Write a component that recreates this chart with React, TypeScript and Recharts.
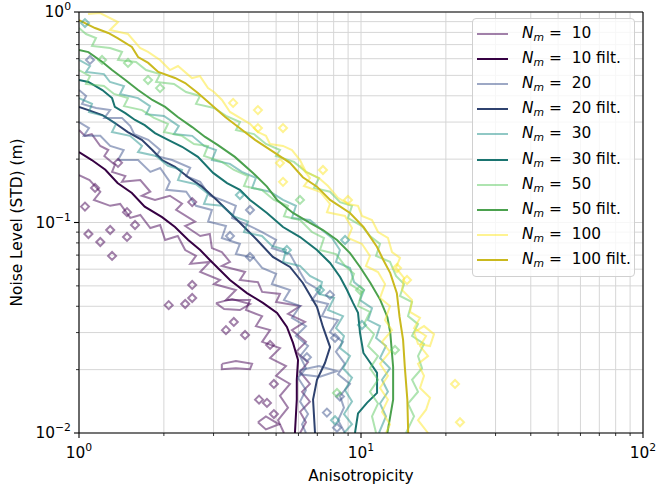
import {
  ComposedChart, Line, Scatter, XAxis, YAxis, CartesianGrid,
  Legend, ReferenceLine,
} from "recharts";

type P = [number, number];

// axis ticks (major + minor) and the exponent shown on the majors
const X_TICKS = [1, 2, 3, 4, 5, 6, 7, 8, 9, 10, 20, 30, 40, 50, 60, 70, 80, 90, 100];
const Y_TICKS = [
  0.01, 0.02, 0.03, 0.04, 0.05, 0.06, 0.07, 0.08, 0.09,
  0.1, 0.2, 0.3, 0.4, 0.5, 0.6, 0.7, 0.8, 0.9, 1,
];
const X_EXP: Record<number, string> = { 1: "0", 10: "1", 100: "2" };
const Y_EXP: Record<number, string> = { 0.01: "\u22122", 0.1: "\u22121", 1: "0" };

const FS = 15.4; // matplotlib 10pt at this dpi
const FS_SUP = 10.8;

// ---- filtered curves ----
const F10: P[] = [
  [1, 0.216], [1.11, 0.198], [1.24, 0.178], [1.37, 0.154], [1.54, 0.138], [1.71, 0.119],
  [1.97, 0.106], [2.19, 0.0952], [2.44, 0.0826], [2.69, 0.074], [2.91, 0.0664], [3.43, 0.0533],
  [3.94, 0.0462], [4.49, 0.0415], [5.04, 0.0372], [5.46, 0.0319], [5.74, 0.0268], [5.98, 0.0222],
  [5.92, 0.0179], [5.92, 0.0144], [5.83, 0.01],
];
const F20: P[] = [
  [1, 0.354], [1.08, 0.342], [1.21, 0.324], [1.34, 0.297], [1.49, 0.269], [1.67, 0.247],
  [1.82, 0.221], [1.97, 0.198], [2.19, 0.184], [2.44, 0.164], [2.73, 0.148], [3.08, 0.128],
  [3.63, 0.103], [4.28, 0.0826], [4.87, 0.0686], [5.6, 0.0615], [6.22, 0.0516], [6.98, 0.0397],
  [7.33, 0.0319], [7.77, 0.0256], [7.45, 0.0215], [6.98, 0.0179], [6.76, 0.0144], [6.87, 0.01],
];
const F30: P[] = [
  [1, 0.475], [1.08, 0.465], [1.21, 0.426], [1.31, 0.39], [1.34, 0.354], [1.46, 0.331],
  [1.58, 0.307], [1.71, 0.29], [1.86, 0.266], [2.07, 0.247], [2.32, 0.229], [2.64, 0.205],
  [2.99, 0.172], [3.35, 0.154], [3.72, 0.143], [4.04, 0.128], [4.64, 0.111], [5.29, 0.0952],
  [6.08, 0.0853], [6.98, 0.074], [7.77, 0.0642], [8.43, 0.0551], [8.92, 0.0478], [9.37, 0.0415],
  [9.76, 0.0372], [9.92, 0.0299], [10.2, 0.024], [10.8, 0.0215], [11.4, 0.0193], [11.4, 0.0155],
  [10.5, 0.0139], [9.76, 0.0124], [9.52, 0.01],
];
const F50: P[] = [
  [1, 0.66], [1.08, 0.645], [1.21, 0.579], [1.31, 0.53], [1.46, 0.475], [1.62, 0.426],
  [1.82, 0.382], [2.02, 0.354], [2.24, 0.317], [2.52, 0.284], [2.8, 0.255], [3.11, 0.233],
  [3.57, 0.205], [4.14, 0.172], [4.64, 0.148], [5.04, 0.128], [5.74, 0.111], [6.59, 0.0995],
  [7.33, 0.0921], [8.22, 0.0826], [9.14, 0.0716], [9.92, 0.0615], [10.8, 0.0516], [11.7, 0.0429],
  [12.4, 0.0356], [12.7, 0.0299], [13.0, 0.0206], [13.0, 0.0144], [12.4, 0.01],
];
const F100: P[] = [
  [1, 0.916], [1.14, 0.839], [1.27, 0.795], [1.37, 0.752], [1.54, 0.682], [1.62, 0.611],
  [1.76, 0.573], [1.91, 0.519], [2.19, 0.486], [2.38, 0.46], [2.64, 0.412], [2.96, 0.361],
  [3.3, 0.317], [3.79, 0.275], [4.21, 0.247], [4.95, 0.214], [5.6, 0.192], [6.22, 0.164],
  [6.98, 0.148], [7.77, 0.128], [9.14, 0.111], [10.2, 0.0952], [11.4, 0.0765], [12.0, 0.0664],
  [12.7, 0.0575], [13.4, 0.0462], [13.7, 0.0356], [14.1, 0.0277], [14.3, 0.0206], [14.6, 0.0144],
  [14.7, 0.01],
];

// ---- raw (unfiltered) contour outlines ----
const C10_UP: P[] = [
  [1, 0.275], [1.05, 0.258], [1.11, 0.263], [1.19, 0.231], [1.27, 0.221], [1.23, 0.207],
  [1.34, 0.188], [1.31, 0.174], [1.46, 0.166], [1.42, 0.156], [1.65, 0.159], [1.79, 0.14],
  [1.67, 0.134], [1.86, 0.128], [2.1, 0.134], [2.32, 0.123], [2.21, 0.115], [2.58, 0.101],
  [2.38, 0.0962], [2.69, 0.0863], [2.91, 0.0882], [2.96, 0.0756], [3.21, 0.0724], [3.43, 0.065],
  [3.21, 0.0622], [3.88, 0.0582], [3.72, 0.0533], [4.31, 0.0521], [4.46, 0.0468], [5.16, 0.0458],
  [5.0, 0.0419], [6.08, 0.0401], [5.51, 0.0368], [6.33, 0.0337], [5.69, 0.0308], [6.38, 0.0271],
  [5.88, 0.0243], [6.49, 0.0217], [6.08, 0.0195], [6.59, 0.0171], [6.18, 0.0157], [6.59, 0.0141],
  [6.08, 0.0126], [6.38, 0.01125], [6.08, 0.01],
];
const C10_LO: P[] = [
  [1, 0.168], [1.09, 0.159], [1.19, 0.14], [1.13, 0.128], [1.29, 0.12], [1.4, 0.1225],
  [1.52, 0.1051], [1.65, 0.1086], [1.79, 0.0941], [1.94, 0.0973], [2.02, 0.0826], [2.24, 0.0863],
  [2.38, 0.074], [2.6, 0.0694], [2.48, 0.0636], [2.91, 0.065], [2.69, 0.0582], [3.16, 0.0533],
  [3.01, 0.051], [3.6, 0.0478], [3.32, 0.0428], [4.04, 0.0428], [3.91, 0.0384], [4.46, 0.0359],
  [4.24, 0.0322], [4.76, 0.0308], [4.46, 0.0271], [5.16, 0.0253], [4.76, 0.0227], [5.42, 0.0208],
  [5.0, 0.0187], [5.6, 0.0171], [5.16, 0.015], [5.51, 0.0132], [5.08, 0.0115], [5.33, 0.01],
];
const C10_A: P[] = [[3.21, 0.0213], [3.6, 0.022], [4.11, 0.0213], [4.04, 0.0201], [3.6, 0.0203], [3.21, 0.0201], [3.21, 0.0213]];
const C10_B: P[] = [[4.31, 0.01125], [4.6, 0.012], [5.12, 0.011], [4.6, 0.0104], [4.31, 0.01125]];
const C10_C: P[] = [[3.06, 0.0414], [3.49, 0.0433], [4.04, 0.041], [3.72, 0.0384], [3.27, 0.0388], [3.06, 0.0414]];
const D10: P[] = [
  [1.375, 0.192], [1.14, 0.146], [1.05, 0.119], [1.48, 0.112], [1.58, 0.0973], [1.29, 0.0921],
  [1.08, 0.0882], [1.48, 0.0854], [1.31, 0.0694], [2.52, 0.125], [2.08, 0.0405], [2.38, 0.041],
  [2.52, 0.0438], [2.52, 0.0505], [3.32, 0.0308], [3.54, 0.0337], [4.91, 0.0171], [4.35, 0.0144],
  [4.91, 0.0123], [4.64, 0.0139], [1.19, 0.0808], [3.88, 0.0292], [4.76, 0.0262],
];

const C20_UP: P[] = [
  [1, 0.426], [1.06, 0.399], [1.025, 0.366], [1.15, 0.35], [1.29, 0.342], [1.23, 0.314],
  [1.42, 0.314], [1.52, 0.287], [1.57, 0.263], [1.76, 0.247], [1.94, 0.221], [1.88, 0.207],
  [2.14, 0.198], [2.48, 0.182], [2.4, 0.166], [2.69, 0.156], [2.91, 0.134], [3.21, 0.128],
  [3.6, 0.12], [3.49, 0.105], [4.04, 0.0962], [4.46, 0.0901], [5.0, 0.0826], [4.83, 0.0756],
  [5.6, 0.0708], [6.08, 0.0582], [6.38, 0.0521], [7.1, 0.0478], [6.7, 0.0428], [7.64, 0.041],
  [7.27, 0.0359], [8.29, 0.0344], [7.76, 0.0301], [8.63, 0.0271], [8.15, 0.0243], [8.77, 0.0213],
  [8.29, 0.019], [9.14, 0.0171], [8.42, 0.015], [8.7, 0.0132], [8.29, 0.0115], [8.77, 0.01],
];
const C20_LO: P[] = [
  [1, 0.3], [1.085, 0.281], [1.04, 0.258], [1.19, 0.258], [1.29, 0.231], [1.44, 0.221],
  [1.375, 0.198], [1.62, 0.198], [1.79, 0.174], [1.94, 0.1815], [2.1, 0.156], [2.04, 0.143],
  [2.4, 0.14], [2.6, 0.12], [2.96, 0.1147], [2.87, 0.101], [3.32, 0.0962], [3.21, 0.0844],
  [3.72, 0.0791], [3.6, 0.0708], [4.17, 0.0679], [4.46, 0.0608], [5.0, 0.057], [4.83, 0.051],
  [5.6, 0.0478], [5.33, 0.0428], [6.08, 0.0401], [5.69, 0.0352], [6.38, 0.0322], [5.88, 0.0289],
  [6.49, 0.0259], [6.08, 0.0232], [6.38, 0.0203], [5.98, 0.0183], [6.38, 0.016], [6.08, 0.0141],
  [6.49, 0.0123], [6.18, 0.011], [6.38, 0.01],
];
const C20_A: P[] = [[6.08, 0.0199], [7.1, 0.0208], [8.22, 0.0197], [7.15, 0.0185], [6.08, 0.019], [6.08, 0.0199]];
const D20: P[] = [
  [4.04, 0.0686], [7.57, 0.0125], [8.42, 0.0149], [8.22, 0.0106], [4.04, 0.1147], [3.43, 0.0863],
  [7.76, 0.0453], [6.43, 0.0229], [8.09, 0.0283], [1.094, 0.592],
];

const C30_UP: P[] = [
  [1, 0.592], [1.094, 0.554], [1.059, 0.519], [1.226, 0.507], [1.288, 0.465], [1.444, 0.445],
  [1.398, 0.408], [1.619, 0.39], [1.786, 0.357], [1.729, 0.327], [2.0, 0.321], [2.26, 0.287],
  [2.17, 0.263], [2.52, 0.258], [2.78, 0.231], [3.06, 0.221], [2.96, 0.198], [3.43, 0.19],
  [3.78, 0.174], [4.24, 0.163], [4.11, 0.146], [4.76, 0.14], [5.29, 0.128], [5.88, 0.12],
  [5.69, 0.105], [6.59, 0.1028], [7.27, 0.0921], [7.89, 0.0844], [8.42, 0.074], [8.15, 0.065],
  [9.14, 0.0608], [9.45, 0.0521], [10.25, 0.0478], [9.92, 0.0428], [10.94, 0.0392], [10.59, 0.0344],
  [11.68, 0.0322], [11.31, 0.0283], [12.26, 0.0259], [11.68, 0.0227], [12.67, 0.0203], [11.87, 0.0179],
  [12.46, 0.0157], [11.68, 0.0138], [12.26, 0.012], [11.58, 0.01],
];
const C30_LO: P[] = [
  [1, 0.39], [1.112, 0.366], [1.085, 0.335], [1.226, 0.321], [1.353, 0.294], [1.309, 0.269],
  [1.517, 0.258], [1.673, 0.231], [1.619, 0.216], [1.876, 0.207], [2.068, 0.186], [2.319, 0.1776],
  [2.244, 0.159], [2.6, 0.152], [2.867, 0.137], [2.775, 0.1225], [3.214, 0.12], [3.545, 0.107],
  [3.975, 0.101], [3.847, 0.0901], [4.455, 0.0863], [4.834, 0.0774], [5.42, 0.074], [5.289, 0.065],
  [6.076, 0.0622], [6.593, 0.0557], [7.272, 0.0521], [7.095, 0.0458], [8.021, 0.0438], [7.637, 0.0384],
  [8.633, 0.0359], [8.154, 0.0315], [8.704, 0.0289], [8.424, 0.0253], [9.141, 0.0232], [8.633, 0.0203],
  [9.292, 0.0183], [8.774, 0.016], [9.292, 0.0141], [8.704, 0.0123], [9.292, 0.011], [8.704, 0.01],
];
const D30: P[] = [
  [5.46, 0.074], [1.05, 0.886], [3.72, 0.135], [7.15, 0.0478], [8.78, 0.0826], [10.08, 0.0326],
  [8.09, 0.0115],
];

const C50_UP: P[] = [
  [1, 0.839], [1.059, 0.786], [1.149, 0.752], [1.112, 0.69], [1.288, 0.675], [1.421, 0.646],
  [1.375, 0.592], [1.593, 0.579], [1.729, 0.53], [1.938, 0.507], [1.876, 0.465], [2.172, 0.455],
  [2.396, 0.417], [2.686, 0.399], [2.6, 0.366], [3.011, 0.35], [3.321, 0.321], [3.723, 0.3],
  [3.604, 0.275], [4.174, 0.263], [4.603, 0.236], [5.161, 0.221], [4.995, 0.207], [5.786, 0.194],
  [6.381, 0.174], [7.095, 0.1625], [6.812, 0.146], [7.763, 0.14], [8.424, 0.125], [9.292, 0.12],
  [8.993, 0.105], [10.08, 0.0962], [10.76, 0.0863], [11.68, 0.0791], [11.31, 0.0694], [12.67, 0.065],
  [13.31, 0.0557], [14.21, 0.051], [13.75, 0.0448], [15.17, 0.0419], [14.68, 0.0359], [15.93, 0.0329],
  [15.17, 0.0289], [16.73, 0.0265], [15.93, 0.0232], [16.46, 0.0203], [15.17, 0.0179], [15.93, 0.0157],
  [14.68, 0.0138], [15.42, 0.012], [14.44, 0.01],
];
const C50_LO: P[] = [
  [1, 0.53], [1.094, 0.496], [1.059, 0.455], [1.226, 0.445], [1.331, 0.408], [1.492, 0.39],
  [1.444, 0.357], [1.673, 0.342], [1.845, 0.314], [2.068, 0.294], [2.002, 0.269], [2.319, 0.258],
  [2.557, 0.236], [2.867, 0.231], [2.775, 0.207], [3.214, 0.194], [3.545, 0.1776], [3.975, 0.166],
  [3.847, 0.149], [4.455, 0.1427], [4.914, 0.128], [5.509, 0.12], [5.332, 0.107], [6.076, 0.1028],
  [6.702, 0.0901], [7.391, 0.0844], [7.154, 0.074], [8.154, 0.0708], [8.774, 0.0622], [9.445, 0.057],
  [9.141, 0.051], [10.08, 0.0468], [9.758, 0.0401], [10.76, 0.0376], [10.25, 0.0329], [11.12, 0.0295],
  [10.59, 0.0259], [11.49, 0.0232], [10.76, 0.0203], [11.49, 0.0179], [10.76, 0.0157], [11.49, 0.0138],
  [10.94, 0.012], [11.31, 0.01],
];
const D50: P[] = [
  [1.207, 0.592], [1.492, 0.573], [1.757, 0.475], [6.076, 0.128], [8.22, 0.0155], [9.92, 0.0478],
  [13.2, 0.0248], [1.938, 0.435],
];

const C100_UP: P[] = [
  [1.076, 0.978], [1.187, 0.989], [1.375, 0.896], [1.288, 0.821], [1.492, 0.786], [1.646, 0.675],
  [1.757, 0.646], [1.938, 0.592], [2.102, 0.53], [2.244, 0.554], [2.516, 0.4855], [2.686, 0.496],
  [2.867, 0.435], [3.011, 0.417], [3.214, 0.382], [3.431, 0.335], [3.723, 0.314], [4.04, 0.294],
  [4.312, 0.269], [4.603, 0.258], [4.756, 0.236], [5.289, 0.231], [5.692, 0.221], [6.076, 0.198],
  [6.381, 0.174], [7.095, 0.1625], [7.637, 0.149], [8.288, 0.131], [8.993, 0.1225], [9.758, 0.12],
  [10.08, 0.1074], [10.94, 0.1028], [11.49, 0.0901], [12.46, 0.0844], [12.88, 0.0724], [13.75, 0.0679],
  [13.31, 0.0608], [14.21, 0.0545], [13.98, 0.0478], [15.17, 0.0428], [14.92, 0.0376], [16.19, 0.0352],
  [15.42, 0.0315], [17.01, 0.0289], [16.19, 0.0259], [17.29, 0.0232], [15.93, 0.0213], [16.73, 0.0187],
  [16.19, 0.01635], [17.57, 0.0147], [17.01, 0.0129], [15.93, 0.0115], [17.29, 0.01],
];
const C100_LO: P[] = [
  [6.076, 0.188], [6.593, 0.1625], [6.278, 0.149], [7.154, 0.14], [7.763, 0.1225], [7.574, 0.112],
  [8.774, 0.1074], [9.292, 0.0941], [8.993, 0.0844], [10.08, 0.0791], [10.76, 0.0694], [10.41, 0.0622],
  [11.49, 0.0582], [12.17, 0.051], [11.68, 0.0438], [12.67, 0.0401], [12.17, 0.0344], [12.88, 0.0308],
  [11.87, 0.0271], [12.67, 0.0243], [11.68, 0.0213], [12.46, 0.0187], [11.68, 0.01635], [12.46, 0.0144],
  [11.87, 0.0126], [12.67, 0.011], [12.26, 0.01],
];
const C100_A: P[] = [[15.42, 0.0301], [16.73, 0.0322], [18.15, 0.0295], [17.57, 0.0259], [15.93, 0.0265], [15.42, 0.0301]];
const D100: P[] = [
  [3.52, 0.37], [4.31, 0.342], [5.29, 0.281], [4.31, 0.281], [7.33, 0.1776], [5.29, 0.156],
  [8.99, 0.128], [13.42, 0.0608], [14.56, 0.0533], [21.55, 0.0171], [22.44, 0.01125], [5.16, 0.1916],
];

const SERIES = [
  { name: "10", light: "#440154", filt: "#360143", raw: [C10_UP, C10_LO, C10_A, C10_B, C10_C], dots: D10, line: F10 },
  { name: "20", light: "#3b528b", filt: "#2f426f", raw: [C20_UP, C20_LO, C20_A], dots: D20, line: F20 },
  { name: "30", light: "#21918c", filt: "#1a7470", raw: [C30_UP, C30_LO], dots: D30, line: F30 },
  { name: "50", light: "#5ec962", filt: "#4ba14e", raw: [C50_UP, C50_LO], dots: D50, line: F50 },
  { name: "100", light: "#fde725", filt: "#cab91e", raw: [C100_UP, C100_LO, C100_A], dots: D100, line: F100 },
];

const rows = (pts: P[]) => pts.map(([x, y]) => ({ x, y }));

const diamond = (color: string) => (props: any) => {
  const { cx, cy } = props;
  return (
    <path
      d={`M${cx - 4},${cy}L${cx},${cy - 4}L${cx + 4},${cy}L${cx},${cy + 4}Z`}
      fill="none" stroke={color} strokeOpacity={0.5} strokeWidth={2}
    />
  );
};

const XTick = ({ x, y, payload }: any) => {
  const exp = X_EXP[payload.value];
  const major = exp !== undefined;
  return (
    <g>
      <line x1={x} x2={x} y1={y} y2={y + (major ? 5 : 3)} stroke="#000" strokeWidth={major ? 1.1 : 0.8} />
      {major && (
        <text x={x} y={y + 25} textAnchor="middle" fontSize={FS} fill="#000">
          10<tspan dy={-7} fontSize={FS_SUP}>{exp}</tspan>
        </text>
      )}
    </g>
  );
};

const YTick = ({ x, y, payload }: any) => {
  const exp = Y_EXP[payload.value];
  const major = exp !== undefined;
  return (
    <g>
      <line x1={x} x2={x - (major ? 5 : 3)} y1={y} y2={y} stroke="#000" strokeWidth={major ? 1.1 : 0.8} />
      {major && (
        <text x={x - 8} y={y + 5} textAnchor="end" fontSize={FS} fill="#000">
          10<tspan dy={-7} fontSize={FS_SUP}>{exp}</tspan>
        </text>
      )}
    </g>
  );
};

function LegendBox() {
  return (
    <div
      style={{
        boxSizing: "border-box", width: 163, border: "1px solid #d0d0d0", borderRadius: 4,
        background: "rgba(255,255,255,0.8)", padding: "2px 4px 3px 4px",
        fontFamily: "DejaVu Sans", fontSize: FS, color: "#000",
      }}
    >
      {SERIES.flatMap((s) => [false, true].map((filt) => (
        <div key={s.name + filt} style={{ display: "flex", alignItems: "center", height: 25.2 }}>
          <span
            style={{
              display: "inline-block", flex: "none", width: 31, height: 0, marginRight: 14,
              borderTop: `2px solid ${filt ? s.filt : s.light}`, opacity: filt ? 1 : 0.5,
            }}
          />
          <span style={{ whiteSpace: "nowrap", lineHeight: "17px" }}>
            <i>N</i>
            <i style={{ fontSize: FS_SUP, position: "relative", top: 3 }}>m</i>
            {" = \u00a0"}{s.name}{filt ? " filt." : ""}
          </span>
        </div>
      )))}
    </div>
  );
}

export default function App() {
  return (
    <div style={{ position: "absolute", left: 0, top: 0 }}>
      <ComposedChart
        width={657}
        height={487}
        margin={{ top: 12, right: 14, left: 0, bottom: 0 }}
        style={{ fontFamily: "DejaVu Sans" }}
      >
        <CartesianGrid stroke="#d6d6d6" strokeWidth={1} />
        <XAxis
          dataKey="x" type="number" scale="log" domain={[1, 100]} allowDataOverflow
          ticks={X_TICKS} interval={0} tick={<XTick />} tickLine={false} tickSize={0} tickMargin={0}
          axisLine={{ stroke: "#000", strokeWidth: 1.1 }} height={54}
          label={{
            value: "Anisotropicity", position: "insideBottom", offset: 6,
            fontSize: FS, fill: "#000",
          }}
        />
        <YAxis
          dataKey="y" type="number" scale="log" domain={[0.01, 1]} allowDataOverflow
          ticks={Y_TICKS} interval={0} tick={<YTick />} tickLine={false} tickSize={0} tickMargin={0}
          axisLine={{ stroke: "#000", strokeWidth: 1.1 }} width={79}
          label={{
            value: "Noise Level (STD) (m)", angle: -90, position: "insideLeft", offset: 17,
            fontSize: FS, fill: "#000", style: { textAnchor: "middle" },
          }}
        />
        {SERIES.flatMap((s) => [
          ...s.raw.map((pts, i) => (
            <Line
              key={`raw-${s.name}-${i}`} data={rows(pts)} dataKey="y" type="linear"
              stroke={s.light} strokeOpacity={0.5} strokeWidth={2} dot={false}
              isAnimationActive={false} legendType="none"
            />
          )),
          <Scatter
            key={`dots-${s.name}`} data={rows(s.dots)} shape={diamond(s.light)}
            isAnimationActive={false} legendType="none"
          />,
          <Line
            key={`filt-${s.name}`} data={rows(s.line)} dataKey="y" type="linear"
            stroke={s.filt} strokeWidth={2} dot={false} isAnimationActive={false}
            legendType="none"
          />,
        ])}
        <ReferenceLine x={100} stroke="#000" strokeWidth={1.1} />
        <ReferenceLine y={1} stroke="#000" strokeWidth={1.1} />
        <Legend
          layout="vertical" align="center" verticalAlign="middle"
          wrapperStyle={{ left: 472, top: 18, width: 163 }}
          content={() => <LegendBox />}
        />
      </ComposedChart>
    </div>
  );
}
